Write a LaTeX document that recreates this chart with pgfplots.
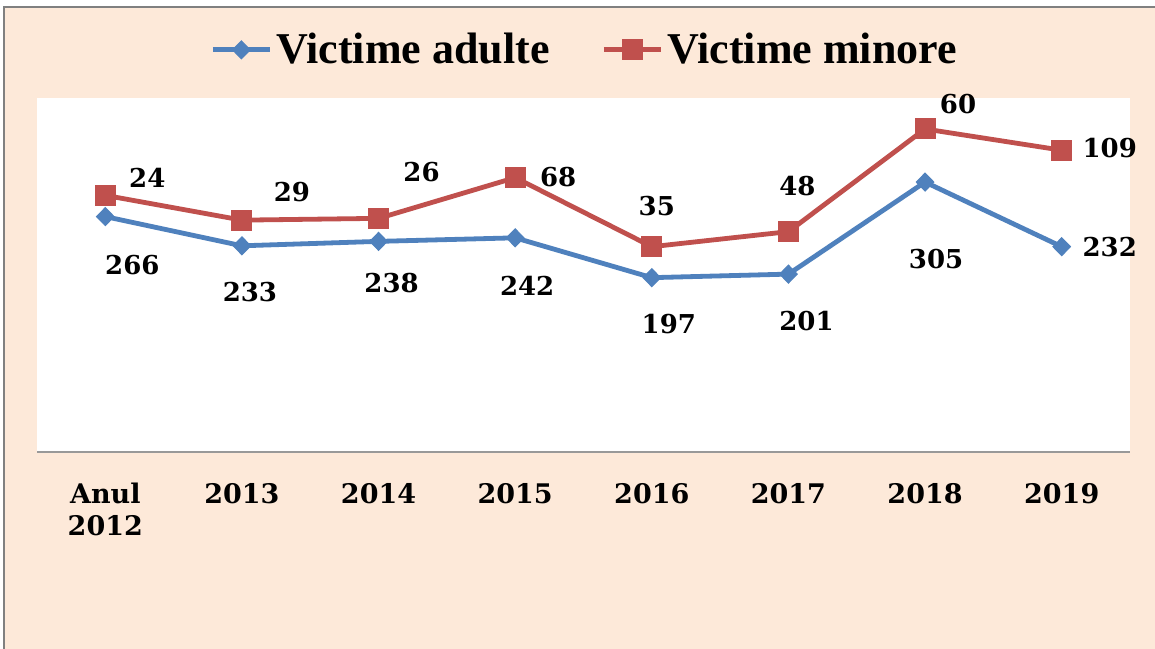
\documentclass[border=0pt]{standalone}
\usepackage{fontspec}
\setmainfont{DejaVu Serif}
\newfontfamily\legfont{Liberation Serif}
\usepackage{pgfplots}
\pgfplotsset{compat=1.18}
\definecolor{bgpeach}{RGB}{253,233,217}
\definecolor{ablue}{RGB}{79,129,189}
\definecolor{ared}{RGB}{192,80,77}
\begin{document}
\begin{tikzpicture}
\useasboundingbox (0,0) rectangle (577.5pt,324pt);
\fill[bgpeach] (2pt,-5pt) rectangle (585pt,320.5pt);
\draw[black!50, line width=1pt] (2pt,-5pt) -- (2pt,320.5pt) -- (585pt,320.5pt);
\begin{axis}[
  at={(18.5pt,98pt)}, anchor=south west,
  scale only axis, width=546.5pt, height=177pt,
  xmin=-0.5, xmax=7.5, ymin=0, ymax=400,
  axis x line=bottom, axis y line=none,
  x axis line style={-, draw=black!40, line width=0.8pt},
  axis background/.style={fill=white},
  xtick={0,...,7},
  xticklabels={{Anul\\2012},2013,2014,2015,2016,2017,2018,2019},
  major tick length=0pt,
  xticklabel style={align=center, font=\bfseries\fontsize{13.5}{16}\selectfont, yshift=-12pt},
  ytick=\empty,
  clip=false,
  stack plots=y,
  point meta=explicit,
  /pgf/number format/assume math mode=true,
  nodes near coords,
  visualization depends on={\thisrow{dx}\as\dx},
  visualization depends on={\thisrow{dy}\as\dy},
  every node near coord/.append style={anchor=center, text=black, xshift=\dx, yshift=\dy, font=\bfseries\fontsize{13}{15}\selectfont},
  legend columns=2,
  legend style={at={(0.502,1.136)}, anchor=center, draw=none, fill=none,
    font=\legfont\bfseries\fontsize{22}{24}\selectfont,
    /tikz/every even column/.append style={column sep=24pt}},
  legend image code/.code={\draw[mark repeat=2,mark phase=2] plot coordinates {(0cm,0cm)(0.5cm,0cm)(1cm,0cm)};},
]
\addplot[ablue, line width=2.4pt, mark=diamond*, mark size=4.5pt, mark options={solid, fill=ablue, draw=ablue, line width=0.5pt, xscale=1.3}]
  table[x=x, y=y, meta=y] {
x y dx dy
0 266 13.5 -24
1 233 4 -23
2 238 6.5 -21
3 242 6 -24
4 197 8.5 -23
5 201 9 -23.5
6 305 5.5 -38.5
7 232 24 0
};
\addlegendentry{Victime adulte}
\addplot[ared, line width=2.4pt, mark=square*, mark size=5pt, mark options={solid, fill=ared, draw=ared, line width=0.5pt}]
  table[x=x, y=y, meta=y] {
x y dx dy
0 24 21 9
1 29 25 14
2 26 21.5 23
3 68 21.5 0.5
4 35 2.5 20.5
5 48 4.5 23
6 60 16.5 12.5
7 109 24 1
};
\addlegendentry{Victime minore}
\end{axis}
\end{tikzpicture}
\end{document}
